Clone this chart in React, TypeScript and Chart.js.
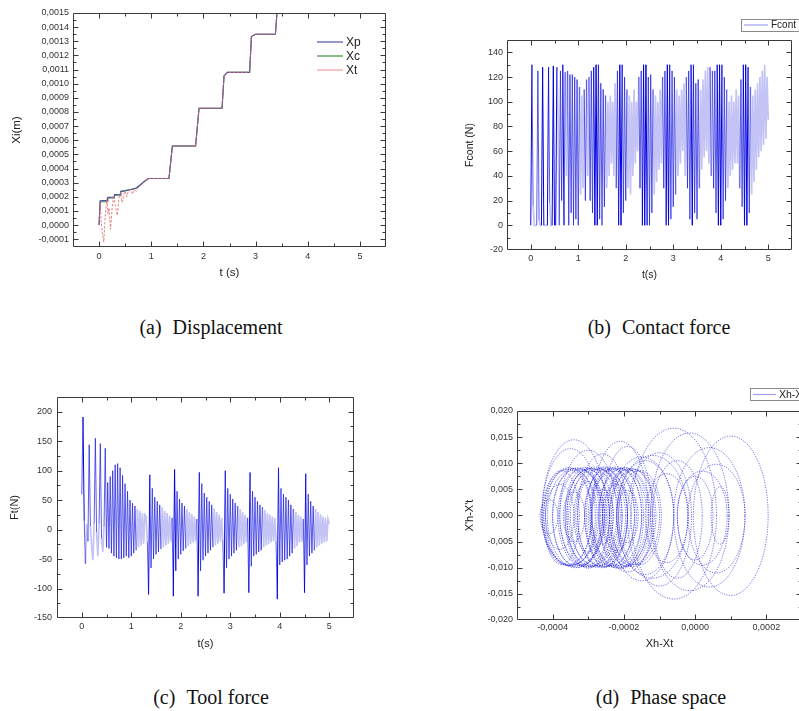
import React, { useEffect, useRef } from "react";
import { Chart, registerables } from "chart.js";
Chart.register(...registerables);

const SANS = "'Liberation Sans', Arial, Helvetica, sans-serif";
const SERIF = "'Liberation Serif', 'Times New Roman', serif";

// ---------- (a) Displacement ----------
const xpTime = [0, 0.02, 0.16, 0.165, 0.29, 0.295, 0.41, 0.415, 0.5, 0.6, 0.7, 0.78, 0.87, 0.95, 1.34, 1.405, 1.85, 1.916, 2.357, 2.395, 2.46, 2.886, 2.92, 2.995, 3.38, 3.41, 3.45];
const xpValues = [0, 0.000172, 0.000175, 0.000196, 0.000198, 0.000216, 0.000218, 0.00024, 0.000245, 0.000252, 0.00026, 0.000282, 0.00031, 0.00033, 0.00033, 0.000559, 0.000559, 0.000826, 0.000826, 0.001055, 0.00108, 0.00108, 0.001334, 0.00135, 0.00135, 0.0015, 0.0016];
const xcTime = [0, 0.02, 0.16, 0.165, 0.29, 0.295, 0.41, 0.415, 0.5, 0.6, 0.7, 0.78, 0.87, 0.95, 1.34, 1.405, 1.85, 1.916, 2.357, 2.395, 2.46, 2.886, 2.92, 2.995, 3.38, 3.41, 3.45];
const xcValues = [0, 0.000165, 0.000165, 0.000192, 0.000192, 0.000212, 0.000212, 0.000236, 0.000242, 0.00025, 0.000258, 0.00028, 0.000308, 0.00033, 0.00033, 0.000559, 0.000559, 0.000826, 0.000826, 0.001055, 0.00108, 0.00108, 0.001334, 0.00135, 0.00135, 0.0015, 0.0016];
const xtTime = [0, 0.02, 0.04, 0.06, 0.09, 0.12, 0.15, 0.17, 0.19, 0.22, 0.25, 0.28, 0.31, 0.35, 0.38, 0.41, 0.44, 0.47, 0.5, 0.53, 0.56, 0.6, 0.64, 0.68, 0.72, 0.76, 0.8, 0.87, 0.95, 1.34, 1.405, 1.85, 1.916, 2.357, 2.395, 2.46, 2.886, 2.92, 2.995, 3.38, 3.41, 3.45];
const xtValues = [0, 0.00016, 0.00003, -0.00005, -0.00012, 0.00008, 0.00019, 0.00008, 0.00012, -0.00003, 0.00012, 0.00021, 0.00014, 0.00007, 0.00019, 0.00023, 0.00016, 0.00021, 0.00024, 0.0002, 0.00024, 0.00025, 0.00022, 0.00025, 0.00024, 0.00027, 0.00028, 0.00031, 0.00033, 0.00033, 0.000559, 0.000559, 0.000826, 0.000826, 0.001055, 0.00108, 0.00108, 0.001334, 0.00135, 0.00135, 0.0015, 0.0016];
const dispTicksX = [0, 1, 2, 3, 4, 5];
const dispTicksY = [-0.0001, 0, 0.0001, 0.0002, 0.0003, 0.0004, 0.0005, 0.0006, 0.0007, 0.0008, 0.0009, 0.001, 0.0011, 0.0012, 0.0013, 0.0014, 0.0015];

// ---------- (b) Contact force, (c) Tool force (sampled every sampleStep s) ----------
const sampleStep = 0.025;
const fcontValues = [
  0, 130, 16, 0, 0, 0, 125, 4, 0, 0, 128, 0, 0, 0, 0, 128, 18, 0, 0, 129,
  0, 0, 128, 86, 0, 125, 20, 130, 0, 124, 40, 125, 0, 122, 10, 122, 0, 120, 5, 118,
  0, 112, 25, 105, 30, 110, 20, 118, 40, 120, 20, 125, 10, 128, 0, 130, 0, 130, 5, 115,
  0, 110, 15, 105, 30, 100, 40, 105, 50, 100, 40, 115, 30, 125, 0, 130, 0, 130, 10, 120,
  20, 110, 30, 105, 25, 100, 40, 110, 50, 100, 60, 120, 30, 125, 0, 130, 0, 130, 0, 120,
  0, 122, 10, 110, 25, 105, 35, 100, 45, 110, 50, 120, 30, 125, 0, 130, 0, 130, 5, 125,
  15, 120, 25, 110, 40, 105, 50, 110, 60, 115, 40, 120, 30, 125, 5, 130, 0, 130, 10, 115,
  5, 118, 30, 110, 45, 118, 55, 125, 60, 128, 50, 128, 40, 125, 30, 125, 10, 130, 0, 130,
  0, 130, 5, 120, 20, 110, 30, 100, 40, 105, 45, 100, 50, 110, 50, 105, 30, 118, 15, 130,
  0, 130, 0, 128, 10, 112, 25, 105, 35, 110, 45, 115, 55, 120, 60, 125, 65, 130, 70, 120,
  85,
];
const ftValues = [
  60, 191, 15, -58, 10, -20, 144, 5, -30, -52, 10, 155, -5, -45, 10, 146, -15, -38, 5, 138,
  -30, 80, -32, 90, -40, 100, -45, 110, -48, 112, -50, 105, -50, 92, -48, 78, -45, 65, -48, 50,
  -45, 45, -40, 40, -35, 35, -30, 32, -27, 28, -24, 25, 22, -20, -110, 93, -65, 70, -50, 55,
  -42, 48, -38, 42, -33, 38, -30, 32, -27, 28, -24, 24, -20, 20, -113, 102, -70, 65, -50, 52,
  -42, 45, -36, 40, -32, 35, -28, 30, -25, 26, -22, 22, -20, 18, -113, 97, -70, 78, -52, 62,
  -45, 55, -40, 48, -35, 42, -30, 36, -27, 30, -24, 25, -20, 20, -18, -108, 100, -65, 70, -50,
  60, -45, 52, -40, 45, -35, 40, -30, 35, -28, 30, -25, 25, -22, 20, -107, 97, -62, 65, -45,
  55, -42, 48, -38, 42, -35, 38, -30, 33, -27, 28, -25, 25, -22, 22, -20, 20, -20, -118, 105,
  -60, 70, -55, 60, -52, 55, -50, 50, -45, 42, -40, 35, -32, 30, -28, 25, -22, 22, -20, 18,
  -107, 95, -60, 60, -45, 48, -40, 40, -35, 35, -30, 30, -27, 26, -24, 22, -22, 20, -20, 18,
  10,
];
const fcontTicksX = [0, 1, 2, 3, 4, 5];
const fcontTicksY = [-20, 0, 20, 40, 60, 80, 100, 120, 140];
const ftTicksX = [0, 1, 2, 3, 4, 5];
const ftTicksY = [-150, -100, -50, 0, 50, 100, 150, 200];

// ---------- (d) Phase space: loops (centre, half width, top, bottom) ----------
const loopCenter = [
  -0.00036, -0.00035, -0.00034, -0.00033, -0.00032, -0.00031, -0.0003, -0.00029, -0.00028, -0.00027,
  -0.00026, -0.00025, -0.00024, -0.00023, -0.00022, -0.00021, -0.0002, -0.00019, -0.00018, -0.00017,
  -0.000375, -0.000355, -0.000335, -0.000315, -0.000295, -0.000275, -0.000255, -0.000235, -0.000215, -0.000195, -0.000175, -0.000155,
  -0.00038, -0.00034, -0.0003, -0.00026, -0.00022, -0.00019, -0.00041,
  -0.00034, -0.00035, -0.0003, -0.00026, -0.00021, -0.00019, -0.00015,
  -0.00006, -0.000015, 0.0001, 0.00006, -0.0001, -0.00005, 0.0, 0.00007, -0.00012, -0.00008, 0.00002, -0.00014, 0.00004,
];
const loopHalfWidth = [
  0.00007, 0.000075, 0.00006, 0.00007, 0.000065, 0.00007, 0.00006, 0.000075, 0.00007, 0.000065,
  0.00007, 0.00006, 0.00007, 0.000065, 0.00007, 0.00006, 0.00007, 0.000065, 0.00007, 0.00007,
  0.00005, 0.000065, 0.00008, 0.00005, 0.000065, 0.00008, 0.00005, 0.000065, 0.00008, 0.00005, 0.00006, 0.00006,
  0.00004, 0.00003, 0.00004, 0.00003, 0.00004, 0.00003, 0.000025,
  0.00009, 0.00008, 0.00008, 0.00007, 0.00008, 0.00007, 0.00009,
  0.00012, 0.00011, 0.000105, 0.00008, 0.00009, 0.00007, 0.00005, 0.000025, 0.0001, 0.00006, 0.00007, 0.00008, 0.0001,
];
const loopTop = [
  0.0088, 0.009, 0.0087, 0.0091, 0.0089, 0.0092, 0.0088, 0.009, 0.0093, 0.0089,
  0.0091, 0.0088, 0.0092, 0.009, 0.0093, 0.0089, 0.0091, 0.0088, 0.009, 0.0087,
  0.0086, 0.0092, 0.009, 0.0087, 0.0091, 0.0089, 0.0093, 0.0088, 0.009, 0.0092, 0.0089, 0.0086,
  0.006, 0.0045, 0.0065, 0.005, 0.006, 0.0048, 0.003,
  0.0145, 0.0128, 0.0125, 0.0118, 0.0142, 0.0132, 0.0112,
  0.0167, 0.0158, 0.0152, 0.0098, 0.012, 0.0105, 0.0075, 0.0055, 0.0115, 0.008, 0.0085, 0.0105, 0.013,
];
const loopBottom = [
  -0.0095, -0.0097, -0.0094, -0.0099, -0.0096, -0.0098, -0.0101, -0.0097, -0.0099, -0.0096,
  -0.01, -0.0098, -0.0097, -0.0099, -0.0096, -0.01, -0.0098, -0.0097, -0.0095, -0.0094,
  -0.0094, -0.0096, -0.01, -0.0095, -0.0098, -0.0097, -0.0099, -0.0096, -0.01, -0.0097, -0.0098, -0.0094,
  -0.0065, -0.005, -0.007, -0.0055, -0.0068, -0.0052, -0.0035,
  -0.0097, -0.0095, -0.0099, -0.0098, -0.0102, -0.0108, -0.0125,
  -0.016, -0.0144, -0.0153, -0.011, -0.0135, -0.012, -0.0085, -0.0055, -0.012, -0.009, -0.0095, -0.0113, -0.0137,
];
const phaseTicksX = [-0.0004, -0.0002, 0, 0.0002];
const phaseTicksY = [-0.02, -0.015, -0.01, -0.005, 0, 0.005, 0.01, 0.015, 0.02];

// ---------- helpers ----------
function fmtComma(v: number, d: number): string {
  if (Math.abs(v) < 1e-12) v = 0;
  return v.toFixed(d).replace(".", ",");
}

function tickSeries(majors: number[], min: number, max: number) {
  const half = (majors[1] - majors[0]) / 2;
  const start = majors[0] - Math.floor((majors[0] - min) / half + 1e-9) * half;
  const out: { v: number; major: boolean }[] = [];
  for (let i = 0; ; i++) {
    const v = start + i * half;
    if (v > max + half * 1e-6) break;
    const major = majors.some((m) => Math.abs(m - v) < half * 0.01);
    out.push({ v, major });
  }
  return out;
}

type LegendItem = { label: string; color: string; dash?: number[] };
type Legend = {
  boxed: boolean;
  x: number; y: number; lineLen: number; rowH: number; font: number;
  boxX?: number; boxY?: number; boxW?: number; boxH?: number;
  items: LegendItem[];
};

type Spec = {
  w: number; h: number;
  area: { left: number; top: number; right: number; bottom: number };
  xMin: number; xMax: number; yMin: number; yMax: number;
  xTicks: number[]; yTicks: number[];
  xDec: number; yDec: number;
  xTitle: string; yTitle: string;
  xTitleY: number; yTitleX: number; titleSize: number;
  tickSize: number; xLabelPad: number; yLabelPad: number;
  datasets: any[];
  legend: Legend;
};

const AXIS_H = 40;

function makeFramePlugin(spec: Spec) {
  return {
    id: "frame" + Math.random().toString(36).slice(2),
    afterDatasetsDraw(chart: any) {
      const { ctx, chartArea: a, scales } = chart;
      const xs = scales.x;
      const ys = scales.y;
      ctx.save();
      ctx.strokeStyle = "#3a3a3a";
      ctx.lineWidth = 1;
      const L = Math.round(a.left) + 0.5;
      const R = Math.round(a.right) - 0.5;
      const T = Math.round(a.top) + 0.5;
      const B = Math.round(a.bottom) - 0.5;
      ctx.beginPath();
      ctx.rect(L, T, R - L, B - T);
      ctx.stroke();
      ctx.beginPath();
      for (const t of tickSeries(spec.xTicks, spec.xMin, spec.xMax)) {
        const p = Math.round(xs.getPixelForValue(t.v)) + 0.5;
        if (p <= L + 1 || p >= R - 1) continue;
        const len = t.major ? 5 : 3;
        ctx.moveTo(p, B); ctx.lineTo(p, B - len);
        ctx.moveTo(p, T); ctx.lineTo(p, T + len);
      }
      for (const t of tickSeries(spec.yTicks, spec.yMin, spec.yMax)) {
        const p = Math.round(ys.getPixelForValue(t.v)) + 0.5;
        if (p <= T + 1 || p >= B - 1) continue;
        const len = t.major ? 5 : 3;
        ctx.moveTo(L, p); ctx.lineTo(L + len, p);
        ctx.moveTo(R, p); ctx.lineTo(R - len, p);
      }
      ctx.stroke();
      ctx.restore();
    },
    afterDraw(chart: any) {
      const { ctx } = chart;
      const lg = spec.legend;
      ctx.save();
      if (lg.boxed) {
        ctx.fillStyle = "#ffffff";
        ctx.fillRect(lg.boxX!, lg.boxY!, lg.boxW!, lg.boxH!);
        ctx.strokeStyle = "#8a8a8a";
        ctx.lineWidth = 1;
        ctx.strokeRect(lg.boxX! + 0.5, lg.boxY! + 0.5, lg.boxW!, lg.boxH!);
      }
      ctx.font = `${lg.font}px ${SANS}`;
      ctx.textBaseline = "middle";
      ctx.textAlign = "left";
      lg.items.forEach((it, i) => {
        const y = lg.y + i * lg.rowH;
        ctx.beginPath();
        ctx.strokeStyle = it.color;
        ctx.lineWidth = 1.2;
        ctx.setLineDash(it.dash || []);
        ctx.moveTo(lg.x, y);
        ctx.lineTo(lg.x + lg.lineLen, y);
        ctx.stroke();
        ctx.setLineDash([]);
        ctx.fillStyle = "#222";
        ctx.fillText(it.label, lg.x + lg.lineLen + 3, y + 0.5);
      });
      ctx.restore();
    },
  };
}

function buildConfig(spec: Spec): any {
  const a = spec.area;
  const lineH = spec.titleSize * 1.2;
  const xTitlePad = a.bottom + AXIS_H - lineH / 2 - spec.xTitleY;
  const yTitlePad = spec.yTitleX - lineH / 2;
  const tickFont = { family: SANS, size: spec.tickSize };
  const titleFont = { family: SANS, size: spec.titleSize };
  return {
    type: "scatter",
    data: { datasets: spec.datasets },
    plugins: [makeFramePlugin(spec)],
    options: {
      responsive: false,
      animation: false,
      devicePixelRatio: 1,
      events: [],
      layout: {
        padding: { left: 0, top: a.top, right: spec.w - a.right, bottom: spec.h - a.bottom - AXIS_H },
      },
      plugins: { legend: { display: false }, tooltip: { enabled: false } },
      elements: { point: { radius: 0 }, line: { tension: 0 } },
      scales: {
        x: {
          type: "linear",
          min: spec.xMin,
          max: spec.xMax,
          afterFit: (s: any) => { s.height = AXIS_H; },
          afterBuildTicks: (s: any) => { s.ticks = spec.xTicks.map((v) => ({ value: v })); },
          grid: { display: false, drawTicks: false },
          border: { display: false },
          ticks: {
            padding: spec.xLabelPad, font: tickFont, color: "#333", autoSkip: false, maxRotation: 0,
            callback: (v: number) => fmtComma(v, spec.xDec),
          },
          title: { display: true, text: spec.xTitle, font: titleFont, color: "#222", padding: { top: 0, bottom: xTitlePad } },
        },
        y: {
          type: "linear",
          min: spec.yMin,
          max: spec.yMax,
          afterFit: (s: any) => { s.width = a.left; },
          afterBuildTicks: (s: any) => { s.ticks = spec.yTicks.map((v) => ({ value: v })); },
          grid: { display: false, drawTicks: false },
          border: { display: false },
          ticks: {
            padding: spec.yLabelPad, font: tickFont, color: "#333", autoSkip: false,
            callback: (v: number) => fmtComma(v, spec.yDec),
          },
          title: { display: true, text: spec.yTitle, font: titleFont, color: "#222", padding: { top: yTitlePad, bottom: 0 } },
        },
      },
    },
  };
}

// ---------- chart specs ----------
const XP_COLOR = "rgb(80,80,170)";
const XC_COLOR = "rgb(60,140,60)";
const XT_COLOR = "rgba(225,110,110,0.85)";
const FORCE_DARK = "rgb(0,0,225)";
const FORCE_MID = "rgba(30,30,225,0.72)";
const FORCE_LIGHT = "rgba(80,80,228,0.34)";
const PHASE_COLOR = "rgba(25,25,220,0.8)";

function toPts(t: number[], v: number[]) {
  return t.map((x, i) => ({ x, y: v[i] }));
}
function sampled(v: number[]) {
  return v.map((y, i) => ({ x: i * sampleStep, y }));
}

function dispSpec(): Spec {
  return {
    w: 400, h: 300,
    area: { left: 73, top: 13, right: 386, bottom: 247 },
    xMin: -0.5, xMax: 5.5, yMin: -0.000155, yMax: 0.0015,
    xTicks: dispTicksX, yTicks: dispTicksY, xDec: 0, yDec: 4,
    xTitle: "t (s)", yTitle: "Xi(m)", xTitleY: 273, yTitleX: 17, titleSize: 11.5,
    tickSize: 9, xLabelPad: 4, yLabelPad: 4,
    datasets: [
      { label: "Xt", order: 0, data: toPts(xtTime, xtValues), showLine: true, borderColor: XT_COLOR, borderWidth: 1, borderDash: [2.5, 1.5] },
      { label: "Xp", order: 1, data: toPts(xpTime, xpValues), showLine: true, borderColor: XP_COLOR, borderWidth: 1.1 },
      { label: "Xc", order: 2, data: toPts(xcTime, xcValues), showLine: true, borderColor: XC_COLOR, borderWidth: 1.1 },
    ],
    legend: {
      boxed: false, x: 317, y: 42, lineLen: 26, rowH: 14, font: 12,
      items: [
        { label: "Xp", color: XP_COLOR },
        { label: "Xc", color: XC_COLOR },
        { label: "Xt", color: "rgba(235,150,150,0.9)" },
      ],
    },
  };
}

function forceSegment(dark: number, mid: number) {
  const swing = (c: any) => Math.abs(c.p1.parsed.y - c.p0.parsed.y);
  return {
    borderColor: (c: any) => (swing(c) >= dark ? FORCE_DARK : swing(c) >= mid ? FORCE_MID : FORCE_LIGHT),
    borderWidth: (c: any) => (swing(c) >= mid ? 1 : 1.7),
  };
}

function fcontSpec(): Spec {
  return {
    w: 399, h: 300,
    area: { left: 107, top: 40, right: 392, bottom: 250 },
    xMin: -0.5, xMax: 5.5, yMin: -20, yMax: 150,
    xTicks: fcontTicksX, yTicks: fcontTicksY, xDec: 0, yDec: 0,
    xTitle: "t(s)", yTitle: "Fcont (N)", xTitleY: 275, yTitleX: 70, titleSize: 10.5,
    tickSize: 9, xLabelPad: 3, yLabelPad: 4,
    datasets: [
      { label: "Fcont", data: sampled(fcontValues), showLine: true, borderColor: FORCE_LIGHT, borderWidth: 1.7, segment: forceSegment(126, 88) },
    ],
    legend: {
      boxed: true, x: 344, y: 25, lineLen: 24, rowH: 12, font: 10,
      boxX: 341, boxY: 19, boxW: 58, boxH: 12,
      items: [{ label: "Fcont", color: "rgba(120,120,230,0.7)" }],
    },
  };
}

function ftSpec(): Spec {
  return {
    w: 400, h: 300,
    area: { left: 57, top: 27, right: 354, bottom: 248 },
    xMin: -0.5, xMax: 5.5, yMin: -150, yMax: 225,
    xTicks: ftTicksX, yTicks: ftTicksY, xDec: 0, yDec: 0,
    xTitle: "t(s)", yTitle: "Ft(N)", xTitleY: 274, yTitleX: 15, titleSize: 11,
    tickSize: 9, xLabelPad: 3, yLabelPad: 5,
    datasets: [
      { label: "Ft", data: sampled(ftValues), showLine: true, borderColor: FORCE_LIGHT, borderWidth: 1.7, segment: forceSegment(170, 72) },
    ],
    legend: { boxed: false, x: 0, y: 0, lineLen: 0, rowH: 0, font: 10, items: [] },
  };
}

function phaseSpec(): Spec {
  const LOOP_SAMPLES = 72;
  const datasets = loopCenter.map((cx, k) => {
    const pts: { x: number; y: number }[] = [];
    for (let j = 0; j <= LOOP_SAMPLES; j++) {
      const th = (j / LOOP_SAMPLES) * Math.PI * 2;
      const s = Math.sin(th);
      pts.push({ x: cx + loopHalfWidth[k] * Math.cos(th), y: s >= 0 ? loopTop[k] * s : -loopBottom[k] * s });
    }
    return { label: "Xh-Xt", data: pts, showLine: true, borderColor: PHASE_COLOR, borderWidth: 0.75, borderDash: [1.2, 1.3] };
  });
  return {
    w: 420, h: 300,
    area: { left: 117, top: 41, right: 402, bottom: 250 },
    xMin: -0.0005, xMax: 0.0003, yMin: -0.02, yMax: 0.02,
    xTicks: phaseTicksX, yTicks: phaseTicksY, xDec: 4, yDec: 3,
    xTitle: "Xh-Xt", yTitle: "X'h-X't", xTitleY: 274, yTitleX: 70, titleSize: 11,
    tickSize: 9, xLabelPad: 2, yLabelPad: 4,
    datasets,
    legend: {
      boxed: true, x: 353, y: 24.5, lineLen: 23, rowH: 12, font: 10.5,
      boxX: 350, boxY: 18, boxW: 70, boxH: 12,
      items: [{ label: "Xh-Xt", color: "rgba(120,120,230,0.7)" }],
    },
  };
}

function Panel({ left, top, spec }: { left: number; top: number; spec: () => Spec }) {
  const ref = useRef<HTMLCanvasElement | null>(null);
  useEffect(() => {
    if (!ref.current) return;
    const s = spec();
    const chart = new Chart(ref.current, buildConfig(s));
    return () => chart.destroy();
  }, []);
  const s0 = spec();
  return (
    <canvas
      ref={ref}
      width={s0.w}
      height={s0.h}
      style={{ position: "absolute", left, top, width: s0.w, height: s0.h }}
    />
  );
}

function Caption({ x, y, tag, text }: { x: number; y: number; tag: string; text: string }) {
  return (
    <div
      style={{
        position: "absolute", left: x, top: y, transform: "translate(-50%, -50%)",
        fontFamily: SERIF, fontSize: 20, color: "#111", whiteSpace: "nowrap", lineHeight: 1,
      }}
    >
      <span>{tag}</span>
      <span style={{ marginLeft: 11 }}>{text}</span>
    </div>
  );
}

export default function App() {
  return (
    <div style={{ position: "absolute", left: 0, top: 0, width: 799, height: 711, overflow: "hidden", background: "#fff" }}>
      <Panel left={0} top={0} spec={dispSpec} />
      <Panel left={400} top={0} spec={fcontSpec} />
      <Panel left={0} top={370} spec={ftSpec} />
      <Panel left={400} top={370} spec={phaseSpec} />
      <Caption x={211} y={327} tag="(a)" text="Displacement" />
      <Caption x={659} y={327} tag="(b)" text="Contact force" />
      <Caption x={211} y={697} tag="(c)" text="Tool force" />
      <Caption x={661} y={697} tag="(d)" text="Phase space" />
    </div>
  );
}
